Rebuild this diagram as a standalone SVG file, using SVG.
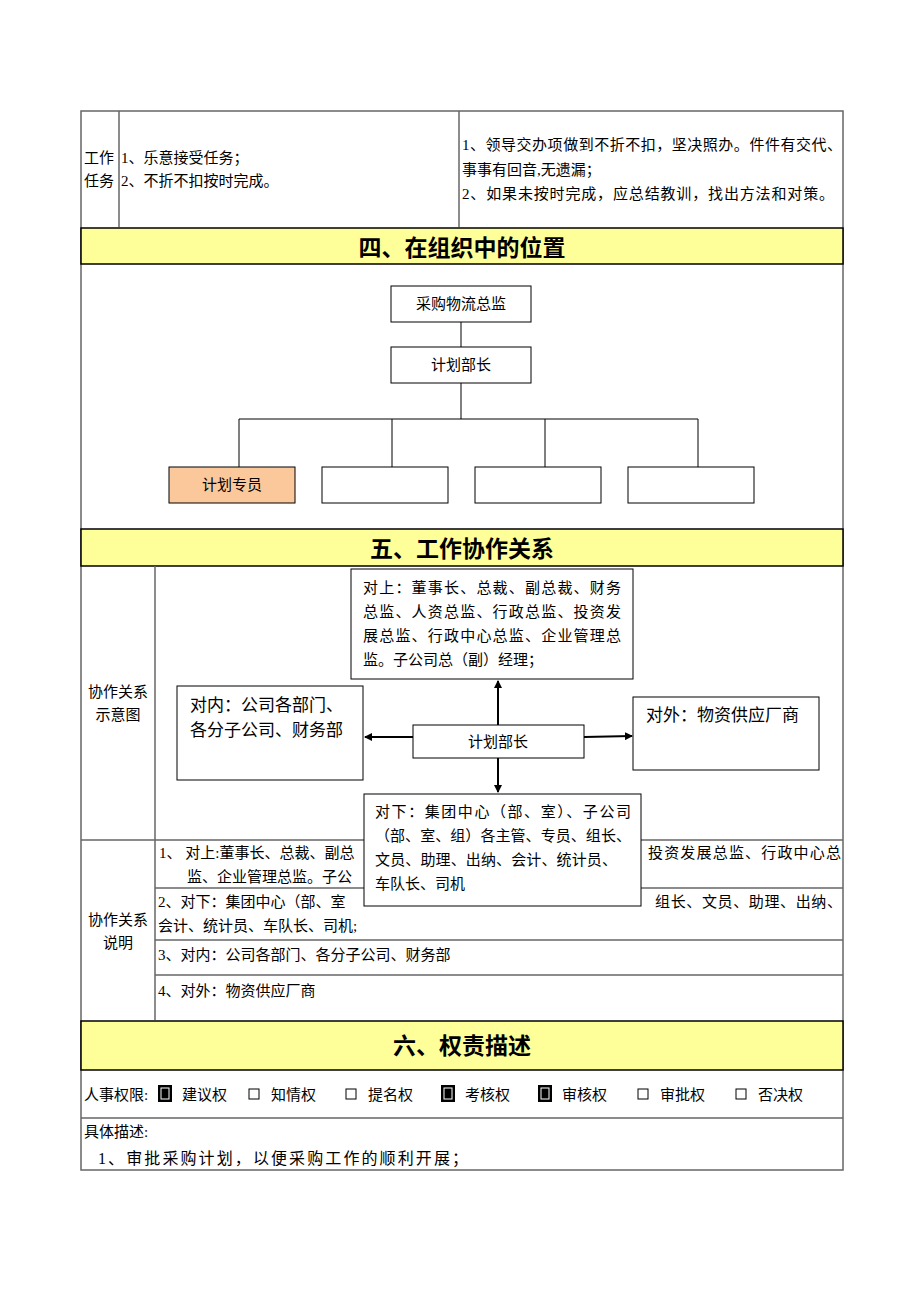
<svg xmlns="http://www.w3.org/2000/svg" width="920" height="1302" viewBox="0 0 920 1302">
<style>
text{font-family:"Liberation Serif","Noto Sans CJK SC",serif;font-size:15px;fill:#000}
.h{font-size:23px;font-weight:bold;text-anchor:middle}
.c{text-anchor:middle}
.g{stroke:#666;stroke-width:1.5;fill:none}
.y{fill:#ffff99;stroke:#000;stroke-width:1.5}
.b{fill:#fff;stroke:#000;stroke-width:1}
.l{stroke:#000;stroke-width:1;fill:none}
.a{stroke:#000;stroke-width:2;fill:none;marker-end:url(#ar)}
</style>
<defs><marker id="ar" markerWidth="8" markerHeight="8" refX="7" refY="4" orient="auto" markerUnits="userSpaceOnUse"><path d="M0,0L8,4L0,8z" fill="#000"/></marker></defs>
<rect width="920" height="1302" fill="#fff"/>
<g id="table">
<rect x="81" y="111" width="762" height="1059" class="g"/>
<line x1="119" y1="111" x2="119" y2="227" class="g"/>
<line x1="459" y1="111" x2="459" y2="227" class="g"/>
<rect x="81" y="228" width="762" height="36" class="y"/>
<rect x="81" y="529" width="762" height="37" class="y"/>
<line x1="155" y1="566" x2="155" y2="1020" class="g"/>
<line x1="81" y1="840" x2="843" y2="840" class="g"/>
<line x1="155" y1="888" x2="843" y2="888" class="g"/>
<line x1="155" y1="940" x2="843" y2="940" class="g"/>
<line x1="155" y1="975" x2="843" y2="975" class="g"/>
<rect x="81" y="1021" width="762" height="49" class="y"/>
<line x1="81" y1="1118" x2="843" y2="1118" class="g"/>
</g>
<g id="texts">
<text x="84" y="163">工作</text><text x="84" y="186">任务</text>
<text x="121" y="163">1、乐意接受任务；</text><text x="121" y="186">2、不折不扣按时完成。</text>
<text x="462" y="150" textLength="380">1、领导交办项做到不折不扣，坚决照办。件件有交代、</text>
<text x="462" y="175">事事有回音,无遗漏；</text>
<text x="462" y="199" textLength="372">2、如果未按时完成，应总结教训，找出方法和对策。</text>
<text x="462" y="256" class="h">四、在组织中的位置</text>
<text x="462" y="557" class="h">五、工作协作关系</text>
<text x="118" y="697" class="c">协作关系</text><text x="118" y="720" class="c">示意图</text>
<text x="118" y="925" class="c">协作关系</text><text x="118" y="948" class="c">说明</text>
<text x="159" y="858">1、 对上:董事长、总裁、副总</text>
<text x="648" y="858" textLength="193">投资发展总监、行政中心总</text>
<text x="187" y="882">监、企业管理总监。子公</text>
<text x="158" y="907">2、对下：集团中心（部、室</text>
<text x="655" y="907" textLength="187">组长、文员、助理、出纳、</text>
<text x="158" y="931">会计、统计员、车队长、司机;</text>
<text x="158" y="960">3、对内：公司各部门、各分子公司、财务部</text>
<text x="158" y="996">4、对外：物资供应厂商</text>
<text x="462" y="1054" class="h">六、权责描述</text>
<text x="84" y="1100">人事权限:</text>
<rect x="158" y="1085" width="14" height="17" fill="#000"/><rect x="161" y="1088" width="8" height="11" fill="none" stroke="#fff" stroke-width="1"/>
<text x="182" y="1100">建议权</text>
<rect x="249" y="1089" width="10" height="10" class="b"/><text x="271" y="1100">知情权</text>
<rect x="346" y="1089" width="10" height="10" class="b"/><text x="368" y="1100">提名权</text>
<rect x="441" y="1085" width="14" height="17" fill="#000"/><rect x="444" y="1088" width="8" height="11" fill="none" stroke="#fff" stroke-width="1"/>
<text x="465" y="1100">考核权</text>
<rect x="538" y="1085" width="14" height="17" fill="#000"/><rect x="541" y="1088" width="8" height="11" fill="none" stroke="#fff" stroke-width="1"/>
<text x="562" y="1100">审核权</text>
<rect x="638" y="1089" width="10" height="10" class="b"/><text x="660" y="1100">审批权</text>
<rect x="736" y="1089" width="10" height="10" class="b"/><text x="758" y="1100">否决权</text>
<text x="84" y="1137">具体描述:</text>
<text x="98" y="1164" style="font-size:16px" textLength="370">1、审批采购计划，以便采购工作的顺利开展；</text>
</g>
<g id="connectors">
<line x1="461" y1="322" x2="461" y2="347" class="l"/>
<line x1="461" y1="383" x2="461" y2="419" class="l"/>
<line x1="239" y1="419" x2="698" y2="419" class="l"/>
<line x1="239" y1="419" x2="239" y2="467" class="l"/>
<line x1="392" y1="419" x2="392" y2="467" class="l"/>
<line x1="545" y1="419" x2="545" y2="467" class="l"/>
<line x1="698" y1="419" x2="698" y2="467" class="l"/>
<line x1="498" y1="725" x2="498" y2="681" class="a"/>
<line x1="498" y1="758" x2="498" y2="792" class="a"/>
<line x1="413" y1="737" x2="365" y2="737" class="a"/>
<line x1="584" y1="737" x2="632" y2="736" class="a"/>
</g>
<g id="n-zj"><rect x="391" y="286" width="140" height="36" class="b"/><text x="461" y="309" class="c">采购物流总监</text></g>
<g id="n-bz"><rect x="391" y="347" width="140" height="36" class="b"/><text x="461" y="370" class="c">计划部长</text></g>
<g id="n-zy"><rect x="169" y="467" width="126" height="36" fill="#fbc89c" stroke="#000"/><text x="232" y="490" class="c">计划专员</text></g>
<g id="n-e1"><rect x="322" y="467" width="126" height="36" class="b"/></g>
<g id="n-e2"><rect x="475" y="467" width="126" height="36" class="b"/></g>
<g id="n-e3"><rect x="628" y="467" width="126" height="36" class="b"/></g>
<g id="n-up"><rect x="351" y="569" width="282" height="110" class="b"/>
<text x="363" y="593" textLength="258">对上：董事长、总裁、副总裁、财务</text>
<text x="363" y="617" textLength="258">总监、人资总监、行政总监、投资发</text>
<text x="363" y="641" textLength="258">展总监、行政中心总监、企业管理总</text>
<text x="363" y="665">监。子公司总（副）经理；</text></g>
<g id="n-in"><rect x="177" y="686" width="186" height="94" class="b"/>
<text x="190" y="711" style="font-size:17px">对内：公司各部门、</text>
<text x="190" y="736" style="font-size:17px">各分子公司、财务部</text></g>
<g id="n-out"><rect x="633" y="697" width="186" height="73" class="b"/>
<text x="646" y="721" style="font-size:17px">对外：物资供应厂商</text></g>
<g id="n-c"><rect x="413" y="725" width="171" height="33" class="b"/><text x="498" y="747" class="c">计划部长</text></g>
<g id="n-down"><rect x="364" y="794" width="277" height="112" class="b"/>
<text x="375" y="817" textLength="256">对下：集团中心（部、室）、子公司</text>
<text x="375" y="841" textLength="256">（部、室、组）各主管、专员、组长、</text>
<text x="375" y="865" textLength="242">文员、助理、出纳、会计、统计员、</text>
<text x="375" y="889">车队长、司机</text></g>
</svg>
